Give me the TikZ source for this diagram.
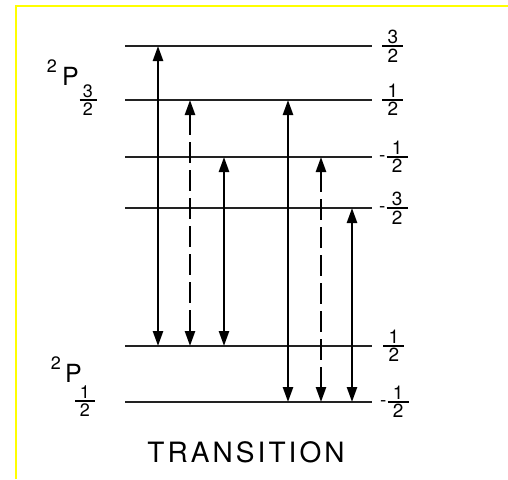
\documentclass[tikz,border=0pt]{standalone}
\usepackage{amsmath}
\usepackage{fontspec}
\setmainfont{TeX Gyre Heros}
\usepackage{tikz}
\usetikzlibrary{arrows.meta, positioning}
\definecolor{framey}{HTML}{FFFF00}
\definecolor{levelgray}{HTML}{222222}
\newcommand{\hfr}[3][20pt]{$\genfrac{}{}{1.6pt}{1}{\hbox to #1{\hss#2\hss}}{\hbox to #1{\hss#3\hss}}$}

\begin{document}
\begin{tikzpicture}[
    x=1pt, y=-1pt,
    level/.style={draw=levelgray, line width=1.9pt},
    trans/.style={{Triangle[width=10pt,length=15pt]}-{Triangle[width=10pt,length=15pt]}, line width=2.5pt, black},
    virt/.style={trans, dash pattern=on 21pt off 7pt},
    mval/.style={anchor=west, inner sep=0pt, font=\fontsize{19}{21}\selectfont},
    term/.style={anchor=base west, inner sep=0pt, font=\fontsize{25}{28}\selectfont},
    mult/.style={anchor=base east, inner sep=0pt, font=\fontsize{18}{20}\selectfont},
    jval/.style={inner sep=0pt, font=\fontsize{18}{20}\selectfont}
]
\useasboundingbox (0,0) rectangle (508,479);
\draw[framey, line width=2pt] (16,479) -- (16,6) -- (508,6);

% Levels
\coordinate (ua) at (125,46);
\coordinate (ub) at (125,100);
\coordinate (uc) at (125,157);
\coordinate (ud) at (125,208);
\coordinate (la) at (125,346);
\coordinate (lb) at (125,402);
\draw[level] (ua) -- ++(247,0);
\draw[level] (ub) -- ++(247,0);
\draw[level] (uc) -- ++(247,0);
\draw[level] (ud) -- ++(247,0);
\draw[level] (la) -- ++(247,0);
\draw[level] (lb) -- ++(247,0);

% Nodes
\node[mval] (mua) at (381,46) {\hfr[21pt]{3}{2}};
\node[mval] (mub) at (381,100) {\hfr[21pt]{1}{2}};
\node[mval] (muc) at (379,157) {-\hfr[21pt]{1}{2}};
\node[mval] (mud) at (379,208) {-\hfr[21pt]{3}{2}};
\node[mval] (mla) at (382,346) {\hfr[21pt]{1}{2}};
\node[mval] (mlb) at (380,402) {-\hfr[21pt]{1}{2}};

\node[term] (pu) at (62,85) {P};
\node[mult] (pum) at (57,72) {2};
\node[jval] (puj) at (88,100) {\hfr[17pt]{3}{2}};
\node[term] (pl) at (65,382) {P};
\node[mult] (plm) at (61,369) {2};
\node[jval] (plj) at (85,401) {\hfr[20pt]{1}{2}};

\node[anchor=base, inner sep=0pt, font=\fontsize{28}{30}\selectfont\addfontfeatures{LetterSpace=11}] (cap) at (246,462) {TRANSITION};

% Connections
\coordinate (c1) at (158,0);
\coordinate (c2) at (190,0);
\coordinate (c3) at (224,0);
\coordinate (c4) at (288,0);
\coordinate (c5) at (321,0);
\coordinate (c6) at (352,0);
\draw[trans] (c1 |- ua) -- (c1 |- la);
\draw[virt] (c2 |- ub) -- (c2 |- la);
\draw[trans] (c3 |- uc) -- (c3 |- la);
\draw[trans] (c4 |- ub) -- (c4 |- lb);
\draw[virt] (c5 |- uc) -- (c5 |- lb);
\draw[trans] (c6 |- ud) -- (c6 |- lb);

\end{tikzpicture}
\end{document}
